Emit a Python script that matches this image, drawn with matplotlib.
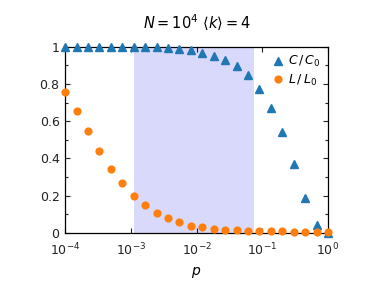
import numpy as np
import matplotlib
matplotlib.use("Agg")
from matplotlib import pyplot as plt
from matplotlib.ticker import FixedLocator, MultipleLocator, NullLocator

# rewiring probabilities (24 log-spaced values from 1e-4 to 1)
p = np.logspace(-4, 0, 24)

# normalised clustering coefficient
c_norm = [1.0, 1.0, 1.0, 1.0, 1.0, 1.0, 1.0, 0.998, 0.997, 0.995, 0.989, 0.982,
          0.968, 0.95, 0.929, 0.898, 0.846, 0.771, 0.67, 0.541, 0.368, 0.186,
          0.043, 0.001]

# normalised average path length
l_norm = [0.754, 0.655, 0.546, 0.441, 0.343, 0.266, 0.198, 0.148, 0.107, 0.079,
          0.057, 0.039, 0.029, 0.021, 0.016, 0.014, 0.012, 0.010, 0.009, 0.008,
          0.007, 0.007, 0.006, 0.006]

# small-world region
span = [1.1e-3, 0.074]

y_ticks = [0, 0.2, 0.4, 0.6, 0.8, 1.0]
y_labels = ["0", "0.2", "0.4", "0.6", "0.8", "1"]

plt.rcParams["mathtext.fontset"] = "dejavusans"
plt.rcParams["font.size"] = 8

fig = plt.figure(figsize=(3.74, 2.90), dpi=100)
ax = fig.add_axes([0.174, 0.197, 0.703, 0.642])

ax.axvspan(span[0], span[1], color="#d9d9fb", lw=0, zorder=0)
ax.plot(p, c_norm, "^", color="#1f77b4", ms=5.4, clip_on=False,
        label=r"$C\,/\,C_0$", zorder=3)
ax.plot(p, l_norm, "o", color="#ff7f0e", ms=5.9, mew=0, clip_on=False,
        label=r"$L\,/\,L_0$", zorder=4)

ax.set_xscale("log")
ax.set_xlim(1e-4, 1)
ax.set_ylim(0, 1)
ax.xaxis.set_minor_locator(NullLocator())
ax.yaxis.set_major_locator(FixedLocator(y_ticks))
ax.set_yticklabels(y_labels)
ax.yaxis.set_minor_locator(MultipleLocator(0.1))
ax.tick_params(which="both", direction="in", top=True, right=True,
               labelsize=9, colors="#222222", width=0.8)
ax.tick_params(which="major", length=3.5, pad=4)
ax.tick_params(which="minor", length=2.5)
ax.tick_params(axis="x", which="major", pad=6)
for s in ax.spines.values():
    s.set_linewidth(0.9)

ax.set_xlabel(r"$p$", fontsize=10, labelpad=5)
ax.set_title(r"$N = 10^4\ \langle k\rangle = 4$", fontsize=10.5, pad=13)

ax.legend(loc="upper right", frameon=False, fontsize=9, handlelength=0.8,
          handletextpad=0.4, borderaxespad=0.2, labelspacing=0.25)

fig.savefig("out.png", dpi=100)
